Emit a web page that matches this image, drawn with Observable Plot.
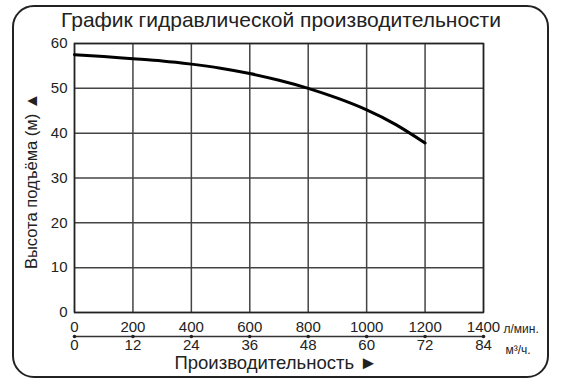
<!DOCTYPE html>
<html><head><meta charset="utf-8">
<script src="https://cdn.jsdelivr.net/npm/d3@7"></script>
<script src="https://cdn.jsdelivr.net/npm/@observablehq/plot@0.6"></script>
<style>
body{margin:0;background:#fff;}
#wrap{position:relative;width:563px;height:387px;}
#border{position:absolute;left:12px;top:5px;width:533px;height:369px;border:2px solid #222;border-radius:22px;pointer-events:none;}
</style></head>
<body><div id="wrap"><div id="border"></div></div>
<script>
const title = "График гидравлической производительности";
const yLabel = "Высота подъёма (м) ▲";
const xLabel = "Производительность ►";
const flowLmin = [0, 100, 200, 300, 400, 500, 600, 700, 800, 900, 1000, 1100, 1200];
const headM = [57.5, 57.1, 56.6, 56.1, 55.4, 54.5, 53.3, 51.8, 50.0, 47.8, 45.2, 41.9, 37.8];
const xTicksLmin = [0, 200, 400, 600, 800, 1000, 1200, 1400];
const xTicksM3h = [0, 12, 24, 36, 48, 60, 72, 84];
const yTicks = [0, 10, 20, 30, 40, 50, 60];
const unitLmin = "л/мин.";
const unitM3h = "м³/ч.";

const curve = flowLmin.map((x, i) => ({x, y: headM[i]}));
const m3ToL = d => d * 1000 / 60;
const ink = "#222";

const chart = Plot.plot({
  width: 563, height: 387,
  marginLeft: 74, marginRight: 80, marginTop: 43, marginBottom: 75,
  style: {fontFamily: "'Liberation Sans', Arial, sans-serif", background: "transparent"},
  x: {domain: [0, 1400], axis: null},
  y: {domain: [0, 60], axis: null},
  marks: [
    Plot.gridX(xTicksLmin, {stroke: "#444", strokeOpacity: 1, strokeWidth: 1.5}),
    Plot.gridY(yTicks, {stroke: "#444", strokeOpacity: 1, strokeWidth: 1.5}),
    Plot.frame({stroke: ink, strokeWidth: 1.5}),
    Plot.line(curve, {x: "x", y: "y", curve: "natural", stroke: "#000", strokeWidth: 3}),
    Plot.text(yTicks, {x: 0, y: d => d, text: d => String(d), textAnchor: "end", dx: -7, fontSize: 15, letterSpacing: 0.8, fill: ink}),
    Plot.text(xTicksLmin, {x: d => d, y: 0, text: d => String(d), dy: 15, fontSize: 15, letterSpacing: 0.8, fill: ink}),
    Plot.ruleY([0], {x1: 0, x2: 1400, dy: 24, stroke: "#333", strokeWidth: 1.5}),
    Plot.dot(xTicksLmin, {x: d => d, y: 0, dy: 24, r: 1.8, fill: ink, stroke: null}),
    Plot.text(xTicksM3h, {x: d => m3ToL(d), y: 0, text: d => String(d), dy: 33, fontSize: 15, letterSpacing: 0.8, fill: ink}),
    Plot.text([unitLmin], {x: 1400, y: 0, text: d => d, dy: 17, dx: 20, textAnchor: "start", fontSize: 12, fill: ink}),
    Plot.text([unitM3h], {x: 1400, y: 0, text: d => d, dy: 38, dx: 22, textAnchor: "start", fontSize: 12, fill: ink}),
    Plot.text([xLabel], {frameAnchor: "bottom", lineAnchor: "middle", text: d => d, dy: 51, dx: -3, fontSize: 18.5, letterSpacing: 0.7, fill: ink}),
    Plot.text([title], {frameAnchor: "top", lineAnchor: "middle", text: d => d, dy: -23, dx: 2, fontSize: 21, letterSpacing: 0.8, fill: ink}),
    Plot.text([yLabel], {frameAnchor: "left", lineAnchor: "middle", textAnchor: "middle", text: d => d, dx: -43, dy: 3, rotate: -90, fontSize: 16.5, fill: ink})
  ]
});
document.getElementById("wrap").prepend(chart);
</script></body></html>
